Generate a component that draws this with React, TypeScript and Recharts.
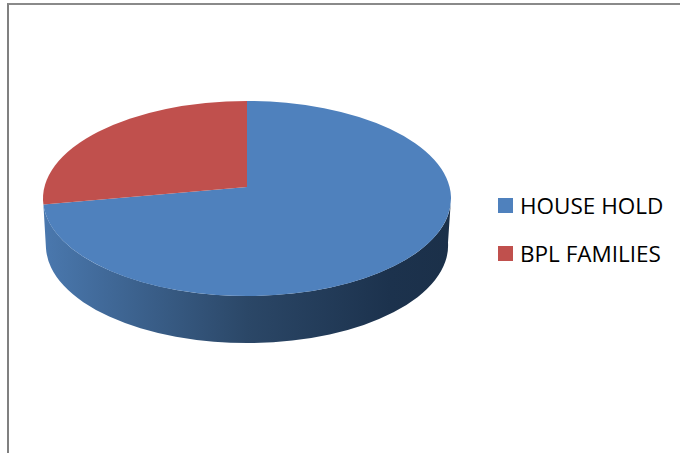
import { PieChart, Pie, Cell, Legend } from 'recharts'

const categories = ['HOUSE HOLD', 'BPL FAMILIES']
const values = [74, 26]
const COLORS = ['#4F81BD', '#C0504D']

const data = categories.map((name, i) => ({ name, value: values[i] }))

const RY = 97.5 // flattened height of the top face
const APEX_SHIFT = 11.5 // the tilted centre sits above the ellipse middle
const DEPTH = 46

// flattened sector, Recharts hands over the angles it computed
function TiltedSector(props: any) {
  const { cx, cy, outerRadius: rx, startAngle, endAngle, fill, index } = props
  const pt = (a: number) => {
    const r = (a * Math.PI) / 180
    return [cx + rx * Math.cos(r), cy - RY * Math.sin(r)]
  }
  const [x0, y0] = pt(startAngle)
  const [x1, y1] = pt(endAngle)
  const large = Math.abs(endAngle - startAngle) > 180 ? 1 : 0
  const face = `M${cx},${cy - APEX_SHIFT} L${x0},${y0} A${rx},${RY} 0 ${large} 1 ${x1},${y1} Z`

  // wall only shows below the front edge, hanging off the big slice
  const wall =
    `M${cx + rx},${cy} L${cx + rx - 3},${cy + DEPTH - 2} ` +
    `A${rx - 3},${RY} 0 0 1 ${cx - rx + 3},${cy + DEPTH + 4} L${x1},${y1} ` +
    `A${rx},${RY} 0 0 0 ${cx + rx},${cy} Z`

  return (
    <g>
      {index === 0 && (
        <>
          <defs>
            <linearGradient id="wallFill" x1="0" y1="0" x2="1" y2="0">
              <stop offset="0%" stopColor="#4A78AE" />
              <stop offset="50%" stopColor="#2B4767" />
              <stop offset="85%" stopColor="#1C324D" />
              <stop offset="100%" stopColor="#1B3049" />
            </linearGradient>
          </defs>
          <path d={wall} fill="url(#wallFill)" />
        </>
      )}
      <path d={face} fill={fill} />
    </g>
  )
}

function LegendList({ payload }: any) {
  return (
    <div style={{ fontFamily: 'Open Sans', fontSize: 22.5, color: '#000' }}>
      {payload.map((item: any) => (
        <div key={item.value} style={{ display: 'flex', alignItems: 'center', height: 48 }}>
          <span style={{ width: 15, height: 15, background: item.color, marginRight: 7 }} />
          <span style={{ whiteSpace: 'nowrap' }}>{item.value}</span>
        </div>
      ))}
    </div>
  )
}

export default function App() {
  return (
    <div style={{ position: 'absolute', left: 0, top: 0, width: 680, height: 453, background: '#fff', overflow: 'hidden' }}>
      <div
        style={{
          position: 'absolute',
          left: 7,
          top: 3,
          right: -4,
          bottom: -4,
          borderTop: '2px solid #8a8a8a',
          borderLeft: '2px solid #808080',
        }}
      />
      <PieChart width={680} height={453} margin={{ top: 0, right: 0, bottom: 0, left: 0 }}>
        <Pie
          data={data}
          dataKey="value"
          nameKey="name"
          cx={247}
          cy={198.5}
          outerRadius={204}
          startAngle={90}
          endAngle={-270}
          stroke="none"
          shape={TiltedSector}
          isAnimationActive={false}
        >
          {data.map((_, index) => (
            <Cell key={`cell-${index}`} fill={COLORS[index % COLORS.length]} />
          ))}
        </Pie>
        <Legend
          layout="vertical"
          itemSorter={null}
          content={<LegendList />}
          wrapperStyle={{ position: 'absolute', left: 498, top: 181, width: 182 }}
        />
      </PieChart>
    </div>
  )
}
